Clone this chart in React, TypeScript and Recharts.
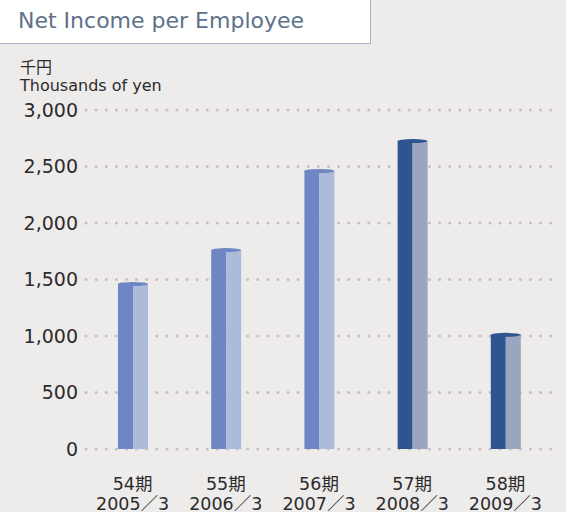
import React from "react";
import { BarChart, Bar, XAxis, YAxis, CartesianGrid, Cell } from "recharts";

const periods = ["54期", "55期", "56期", "57期", "58期"];
const fiscalYears = ["2005／3", "2006／3", "2007／3", "2008／3", "2009／3"];
const netIncome = [1460, 1760, 2460, 2725, 1010];
const yTicks = [0, 500, 1000, 1500, 2000, 2500, 3000];

const FONT = "'DejaVu Sans', 'Noto Sans CJK JP', sans-serif";

const chartData = periods.map((p, i) => ({
    period: p,
    fiscal: fiscalYears[i],
    value: netIncome[i],
}));

// left face / right face per bar, last two are the darker ones
const faceColors = [
    ["#6e86c3", "#adbbda"],
    ["#6e86c3", "#adbbda"],
    ["#6e86c3", "#adbbda"],
    ["#2f5590", "#9aa5bf"],
    ["#2f5590", "#9aa5bf"],
];

const CylBar = (props: any) => {
    const { x, y, width, height, index } = props;
    const [dark, light] = faceColors[index];
    const half = width / 2;
    return (
        <g>
            <rect x={x} y={y} width={half} height={height} fill={dark} />
            <rect x={x + half} y={y} width={half} height={height} fill={light} />
            <ellipse cx={x + half} cy={y} rx={half} ry={2} fill={dark} />
        </g>
    );
};

const XTick = (props: any) => {
    const { x, payload, index } = props;
    return (
        <text x={x} y={449} textAnchor="middle" fill="#2b2b2b" fontSize={17.5} fontFamily={FONT}>
            <tspan x={x} dy={41}>{payload.value}</tspan>
            <tspan x={x} dy={19.5}>{fiscalYears[index]}</tspan>
        </text>
    );
};

export default function App() {
    return (
        <div style={{ position: "absolute", left: 0, top: 0, width: 566, height: 512, background: "#eeeceb", fontFamily: FONT }}>
            <div
                style={{
                    position: "absolute",
                    left: 0,
                    top: 0,
                    width: 370,
                    height: 43,
                    background: "#ffffff",
                    borderRight: "1px solid #a9b3c4",
                    borderBottom: "1px solid #a9b3c4",
                }}
            >
                <div style={{ position: "absolute", left: 18, top: 8, fontSize: 22, color: "#5d7189" }}>
                    Net Income per Employee
                </div>
            </div>
            <div style={{ position: "absolute", left: 20, top: 59, fontSize: 16, lineHeight: "18px", color: "#2b2b2b" }}>
                千円<br />Thousands of yen
            </div>
            <BarChart
                width={566}
                height={512}
                data={chartData}
                margin={{ top: 110, right: 14, left: 0, bottom: 3 }}
                style={{ position: "absolute", left: 0, top: 0 }}
            >
                <CartesianGrid
                    vertical={false}
                    stroke="#c9c0c0"
                    strokeWidth={3}
                    strokeDasharray="0.1 10"
                    strokeLinecap="round"
                />
                <XAxis
                    dataKey="period"
                    axisLine={false}
                    tickLine={false}
                    height={60}
                    interval={0}
                    tick={<XTick />}
                />
                <YAxis
                    width={86}
                    domain={[0, 3000]}
                    ticks={yTicks}
                    axisLine={false}
                    tickLine={false}
                    tickSize={0}
                    tickMargin={8}
                    tickFormatter={(v: number) => v.toLocaleString("en-US")}
                    tick={{ fill: "#2b2b2b", fontSize: 19, fontFamily: FONT }}
                />
                <Bar dataKey="value" barSize={30} isAnimationActive={false} shape={<CylBar />}>
                    {chartData.map((d) => (
                        <Cell key={d.period} />
                    ))}
                </Bar>
            </BarChart>
        </div>
    );
}
